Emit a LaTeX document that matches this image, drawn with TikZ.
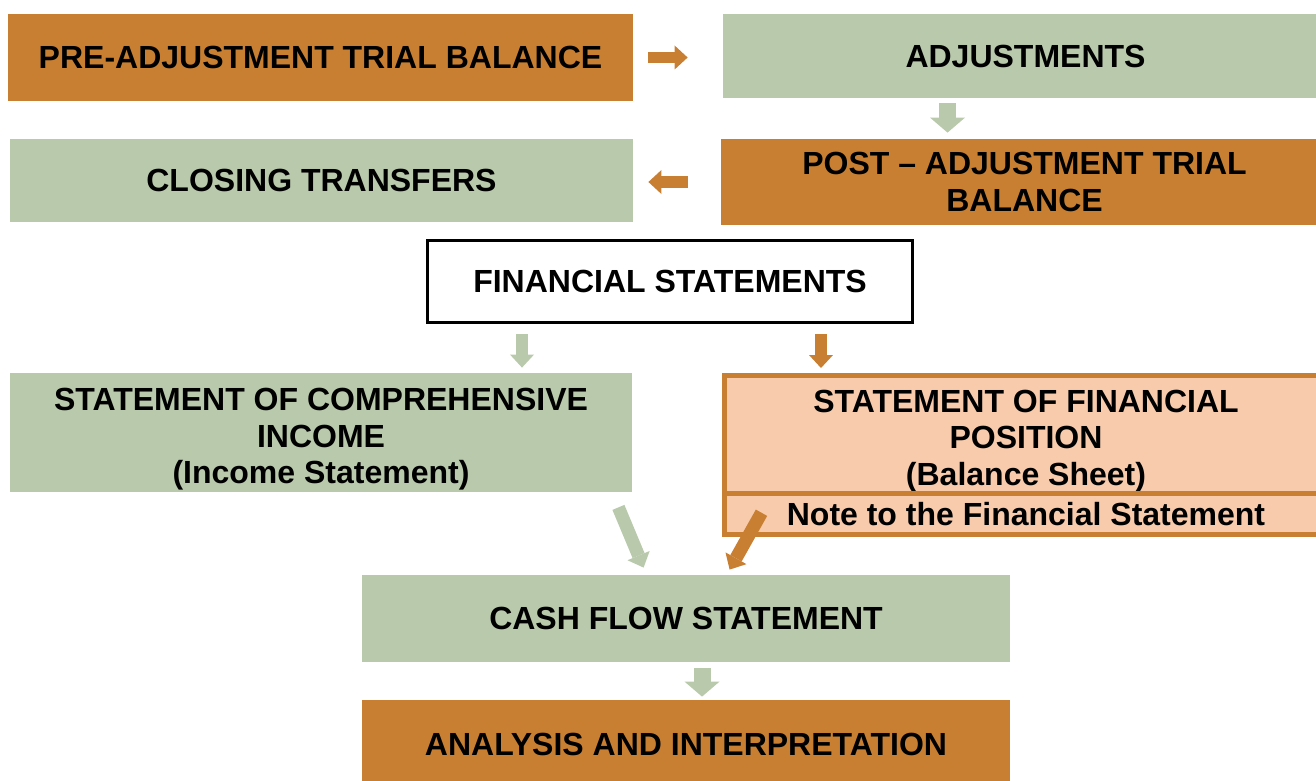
\documentclass[tikz,border=0pt]{standalone}
\usepackage{fontspec}
\setmainfont{Liberation Sans}
\usetikzlibrary{calc,arrows.meta}
\definecolor{boxorange}{HTML}{C87F32}
\definecolor{boxgreen}{HTML}{B9C9AB}
\definecolor{boxpeach}{HTML}{F7CBAC}
\tikzstyle{ob} = [rectangle,
                      inner sep=0pt,
                      text=black,
                      font=\bfseries\fontsize{16}{18.3}\selectfont,
                      align=center,
                      fill=boxorange]
\tikzstyle{gb} = [rectangle,
                      inner sep=0pt,
                      text=black,
                      font=\bfseries\fontsize{16}{18.3}\selectfont,
                      align=center,
                      fill=boxgreen]
\tikzstyle{pb} = [rectangle,
                      inner sep=0pt,
                      text=black,
                      font=\bfseries\fontsize{16}{18.3}\selectfont,
                      align=center,
                      line width=2.5pt,
                      draw=boxorange,
                      fill=boxpeach]
\tikzstyle{wb} = [rectangle,
                      inner sep=0pt,
                      text=black,
                      font=\bfseries\fontsize{16}{18.3}\selectfont,
                      align=center,
                      line width=1.5pt,
                      draw=black,
                      fill=white]
\tikzstyle{oa} = [draw=boxorange, line width=6pt,
                      -{Triangle[width=12pt,length=6.5pt,line width=0pt]}]
\tikzstyle{ga} = [draw=boxgreen, line width=6pt,
                      -{Triangle[width=12pt,length=6.5pt,line width=0pt]}]
\tikzstyle{bigga} = [draw=boxgreen, line width=8.5pt,
                      -{Triangle[width=17.5pt,length=7.5pt,line width=0pt]}]

\begin{document}
\begin{tikzpicture}[x=0.5pt, y=-0.5pt]
     \useasboundingbox (0,0) rectangle (1316,781);
     % top row
     \node [ob, minimum width=312.5pt, minimum height=43.5pt] (pre) at (320.5,57.5) {PRE-ADJUSTMENT TRIAL BALANCE};
     \node [gb, minimum width=302.5pt, minimum height=42pt] (adj) at (1025.5,56) {ADJUSTMENTS};
     % second row
     \node [gb, minimum width=311.5pt, minimum height=41.5pt] (closing) at (321.5,180.5) {CLOSING TRANSFERS};
     \node [ob, minimum width=303.5pt, minimum height=43pt] (post) at (1024.5,182) {POST -- ADJUSTMENT TRIAL\\BALANCE};
     % statements
     \node [wb, minimum width=242.5pt, minimum height=41pt] (fin) at (670,281.5) {FINANCIAL STATEMENTS};
     \node [gb, text height=54.5pt, minimum width=311pt, minimum height=59.5pt] (soci) at (321,432.5) {STATEMENT OF COMPREHENSIVE\\INCOME\\(Income Statement)};
     \node [pb, text height=54.5pt, minimum width=302pt, minimum height=58.75pt] (sofp) at (1026,434.25) {STATEMENT OF FINANCIAL\\POSITION\\(Balance Sheet)};
     \node [pb, minimum width=302pt, minimum height=20.75pt] (note) at (1026,513.75) {Note to the Financial Statement};
     % bottom
     \node [gb, minimum width=324pt, minimum height=43.5pt] (cash) at (686,618.5) {CASH FLOW STATEMENT};
     \node [ob, minimum width=324pt, minimum height=44pt] (analysis) at (686,744) {ANALYSIS AND INTERPRETATION};

     \draw [oa, line width=5.5pt, shorten <=7.5pt, shorten >=17.5pt] (pre.east) -- (pre.east -| adj.west);
     \draw [bigga, shorten <=2.5pt, shorten >=3pt] ([xshift=-39pt]adj.south) -- ([xshift=-39pt]adj.south |- post.north);
     \draw [oa, shorten <=16.5pt, shorten >=7.5pt] (post.west) -- (post.west -| closing.east);
     \draw [ga, shorten <=5pt, shorten >=2.5pt] ([xshift=-74pt]fin.south) -- ([xshift=-74pt]fin.south |- soci.north);
     \draw [oa, shorten <=5pt, shorten >=2.5pt] ([xshift=75.5pt]fin.south) -- ([xshift=75.5pt]fin.south |- sofp.north);
     \draw [ga, line width=6.5pt] ($(soci.south east)+(-14,15)$) -- ($(cash.north west)+(282,-7)$);
     \draw [oa, line width=6.5pt] ($(note.west)+(40,-1)$) -- ($(cash.north west)+(368,-5)$);
     \draw [bigga, shorten <=3pt, shorten >=1.5pt] ([xshift=8pt]cash.south) -- ([xshift=8pt]cash.south |- analysis.north);
\end{tikzpicture}
\end{document}
